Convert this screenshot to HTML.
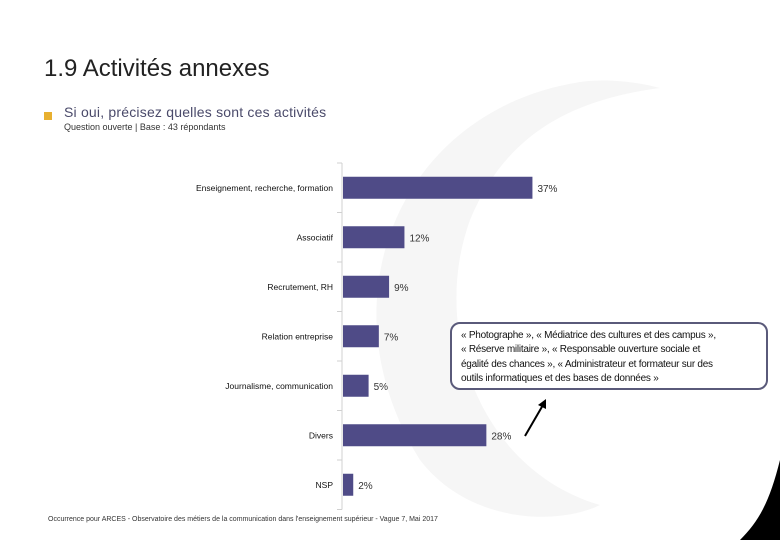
<!DOCTYPE html>
<html><head><meta charset="utf-8">
<style>
body{margin:0;width:780px;height:540px;overflow:hidden;background:#fff;font-family:"Liberation Sans",sans-serif;position:relative}
.t{position:absolute;white-space:nowrap}
</style></head><body>
<svg width="780" height="540" style="position:absolute;left:0;top:0">
<path d="M580,82 C400,110 320,300 420,460 C470,525 560,525 600,505 C480,470 430,330 470,220 C505,135 570,100 660,88 C630,80 600,79 580,82Z" fill="#f6f6f6"/>
<path d="M780,460 C770,500 760,520 740,540 L780,540Z" fill="#000"/>
</svg>
<div class="t" style="left:44px;top:55px;font-size:24px;color:#222">1.9 Activités annexes</div>
<div style="position:absolute;left:44px;top:112px;width:8px;height:8px;background:#e8b030"></div>
<div class="t" style="left:64px;top:104px;font-size:14px;color:#4a4a6a;letter-spacing:0.2px">Si oui, précisez quelles sont ces activités</div>
<div class="t" style="left:64px;top:122px;font-size:9px;color:#333">Question ouverte | Base : 43 répondants</div>
<svg id="chart" width="780" height="540" style="position:absolute;left:0;top:0"></svg>
<div style="position:absolute;left:450px;top:322px;width:318px;height:68px;border:2px solid #5a5a7a;border-radius:10px;box-sizing:border-box;padding:5px 0 0 9px;font-size:10px;letter-spacing:-0.25px;line-height:14.3px;color:#111;background:#fff">« Photographe », « Médiatrice des cultures et des campus »,<br>« Réserve militaire », « Responsable ouverture sociale et<br>égalité des chances », « Administrateur et formateur sur des<br>outils informatiques et des bases de données »</div>
<svg width="780" height="540" style="position:absolute;left:0;top:0;pointer-events:none">
<line x1="525" y1="436" x2="543" y2="405" stroke="#000" stroke-width="2"/>
<polygon points="546,399 538,405 546,409" fill="#000"/>
</svg>
<div class="t" style="left:48px;top:516px;font-size:7px;color:#333">Occurrence pour ARCES - Observatoire des métiers de la communication dans l'enseignement supérieur - Vague 7, Mai 2017</div>
<script>
const categories=["Enseignement, recherche, formation","Associatif","Recrutement, RH","Relation entreprise","Journalisme, communication","Divers","NSP"];
const values=[37,12,9,7,5,28,2];
const labels=["37%","12%","9%","7%","5%","28%","2%"];
const svg=document.getElementById('chart');
const NS="http://www.w3.org/2000/svg";
const x0=343,pxPer=5.12,yTop=163,band=49.5,bh=22;
function xs(v){return x0+v*pxPer;}
function yc(i){return yTop+band*(i+0.5);}
function mk(t,a){const e=document.createElementNS(NS,t);for(const k in a)e.setAttribute(k,a[k]);svg.appendChild(e);return e;}
const ax=mk('line',{x1:x0-1,y1:yTop,x2:x0-1,y2:yTop+band*categories.length,stroke:'#d0d0d0'});


for(let i=0;i<=categories.length;i++){const tk=mk('line',{x1:x0-6,x2:x0-1,y1:yTop+band*i,y2:yTop+band*i,stroke:'#d0d0d0'});

}
categories.forEach((c,i)=>{
const r=mk('rect',{x:x0,y:yc(i)-bh/2,width:xs(values[i])-x0,height:bh,fill:'#4f4b87'});


const l=mk('text',{x:x0-10,y:yc(i)+3,'text-anchor':'end','font-size':'8.5','font-family':'Liberation Sans, sans-serif',fill:'#111'});l.textContent=c;


const v=mk('text',{x:xs(values[i])+5,y:yc(i)+4,'font-size':'10','font-family':'Liberation Sans, sans-serif',fill:'#333'});v.textContent=labels[i];


});
</script>
</body></html>
